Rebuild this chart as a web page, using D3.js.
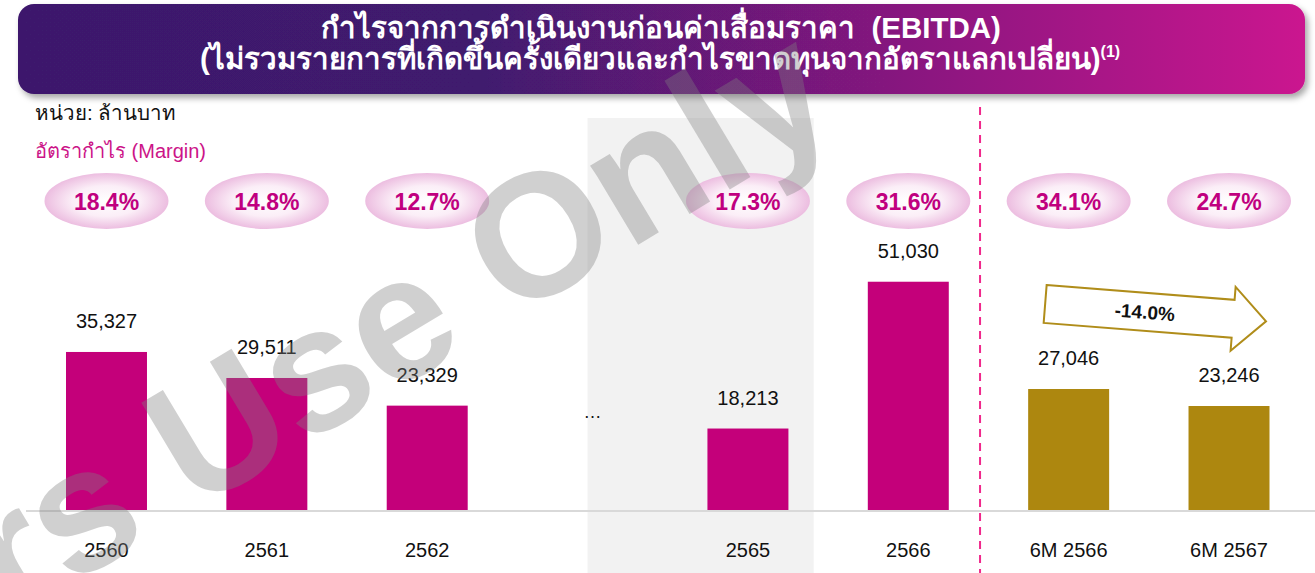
<!DOCTYPE html>
<html>
<head>
<meta charset="utf-8">
<script src="https://cdn.jsdelivr.net/npm/d3@7"></script>
<style>
  html, body { margin: 0; padding: 0; background: #fff; }
  svg { display: block; font-family: "Liberation Sans", Arial, sans-serif; }
</style>
</head>
<body>
<script>
const width = 1315;
const height = 573;

const categories = ["2560", "2561", "2562", "…", "2565", "2566", "6M 2566", "6M 2567"];
const ebitda = [35327, 29511, 23329, null, 18213, 51030, 27046, 23246];
const margins = [18.4, 14.8, 12.7, null, 17.3, 31.6, 34.1, 24.7];
const periods = ["year", "year", "year", null, "year", "year", "half", "half"];
const changeLabel = "-14.0%";

const titleLine1 = "กำไรจากการดำเนินงานก่อนค่าเสื่อมราคา \u00a0(EBITDA)";
const titleLine2 = "(ไม่รวมรายการที่เกิดขึ้นครั้งเดียวและกำไรขาดทุนจากอัตราแลกเปลี่ยน)";
const unitLabel = "หน่วย: ล้านบาท";
const marginLabel = "อัตรากำไร (Margin)";
const watermark = "For Investors Use Only";

const colors = { year: "#c4007a", half: "#ad870f" };

const data = categories.map((c, i) => ({ cat: c, value: ebitda[i], margin: margins[i], period: periods[i] }));

const svg = d3.select("body")
    .append("svg")
    .attr("width", width)
    .attr("height", height);

const defs = svg.append("defs");

const titleGrad = defs.append("linearGradient").attr("id", "titleGrad");
titleGrad.append("stop").attr("offset", "0%").attr("stop-color", "#3d196c");
titleGrad.append("stop").attr("offset", "36%").attr("stop-color", "#401a6e");
titleGrad.append("stop").attr("offset", "100%").attr("stop-color", "#cb188f");

const ellGrad = defs.append("radialGradient").attr("id", "ellGrad");
ellGrad.append("stop").attr("offset", "0%").attr("stop-color", "#ffffff");
ellGrad.append("stop").attr("offset", "55%").attr("stop-color", "#fbeef7");
ellGrad.append("stop").attr("offset", "100%").attr("stop-color", "#ecbde0");

const shadow = defs.append("filter").attr("id", "shadow")
    .attr("x", "-5%").attr("y", "-20%").attr("width", "110%").attr("height", "150%");
shadow.append("feDropShadow")
    .attr("dx", 3).attr("dy", 4).attr("stdDeviation", 3)
    .attr("flood-color", "#000").attr("flood-opacity", 0.35);

// scales
const x = d3.scaleBand()
    .domain(categories)
    .range([66, 1269.5])
    .paddingInner(0.495)
    .paddingOuter(0);

const y = d3.scaleLinear()
    .domain([0, 60000])
    .range([510, 241.6]);

const xc = c => x(c) + x.bandwidth() / 2;

// shaded "gap" region
svg.append("rect")
    .attr("x", xc("…"))
    .attr("y", 118)
    .attr("width", xc("2565") + x.step() * 0.41 - xc("…"))
    .attr("height", height - 118)
    .attr("fill", "#f2f2f2");

// dashed separator
svg.append("line")
    .attr("x1", x("6M 2566") - x.step() * 0.3)
    .attr("x2", x("6M 2566") - x.step() * 0.3)
    .attr("y1", 107)
    .attr("y2", height)
    .attr("stroke", "#f0288c")
    .attr("stroke-width", 2)
    .attr("stroke-dasharray", "8,6");

// baseline
svg.append("line")
    .attr("x1", 26).attr("x2", width)
    .attr("y1", y(0) + 1).attr("y2", y(0) + 1)
    .attr("stroke", "#d9d9d9")
    .attr("stroke-width", 2);

// title box
svg.append("rect")
    .attr("x", 18).attr("y", 4)
    .attr("width", 1287).attr("height", 90)
    .attr("rx", 16)
    .attr("fill", "url(#titleGrad)")
    .attr("filter", "url(#shadow)");

const title = svg.append("g")
    .attr("fill", "#fff")
    .attr("font-weight", "bold")
    .attr("font-size", 29.5)
    .attr("text-anchor", "middle");

title.append("text")
    .attr("x", 661).attr("y", 38)
    .text(titleLine1);

const t2 = title.append("text")
    .attr("x", 660).attr("y", 69);
t2.append("tspan").text(titleLine2);
t2.append("tspan").attr("font-size", 16).attr("dy", -12).text("(1)");

svg.append("text")
    .attr("x", 35).attr("y", 120)
    .attr("font-size", 20.5)
    .attr("fill", "#111")
    .text(unitLabel);

svg.append("text")
    .attr("x", 35).attr("y", 158)
    .attr("font-size", 20)
    .attr("fill", "#cc1488")
    .text(marginLabel);

// margin ellipses
const marg = svg.append("g")
    .selectAll("g")
    .data(data.filter(d => d.margin != null))
    .enter()
    .append("g")
    .attr("transform", d => `translate(${xc(d.cat)},201)`);

marg.append("ellipse")
    .attr("rx", 62).attr("ry", 28)
    .attr("fill", "url(#ellGrad)");

marg.append("text")
    .attr("y", 8.5)
    .attr("text-anchor", "middle")
    .attr("font-size", 23)
    .attr("font-weight", "bold")
    .attr("fill", "#c0007f")
    .text(d => d.margin.toFixed(1) + "%");

// bars
const bars = data.filter(d => d.value != null);

svg.append("g")
    .selectAll("rect")
    .data(bars)
    .enter()
    .append("rect")
    .attr("x", d => x(d.cat))
    .attr("y", d => y(d.value))
    .attr("width", x.bandwidth())
    .attr("height", d => y(0) - y(d.value))
    .attr("fill", d => colors[d.period]);

svg.append("g")
    .selectAll("text")
    .data(bars)
    .enter()
    .append("text")
    .attr("x", d => xc(d.cat))
    .attr("y", d => y(d.value) - 24)
    .attr("text-anchor", "middle")
    .attr("font-size", 20)
    .attr("fill", "#111")
    .text(d => d3.format(",")(d.value));

// ellipsis in the gap slot
svg.append("text")
    .attr("x", xc("…") + 5)
    .attr("y", 418)
    .attr("text-anchor", "middle")
    .attr("font-size", 18)
    .attr("fill", "#111")
    .text("…");

// x axis labels
const xAxis = svg.append("g")
    .attr("transform", `translate(0,${y(0)})`)
    .call(d3.axisBottom(x).tickSize(0).tickPadding(0).tickFormat(c => c === "…" ? "" : c));
xAxis.select(".domain").remove();
xAxis.selectAll("text")
    .attr("dy", null)
    .attr("y", 47)
    .attr("font-size", 20)
    .attr("font-family", "Liberation Sans, Arial, sans-serif")
    .attr("fill", "#111");

// change arrow between the two half-year bars
const ax0 = xc("6M 2566") - 23.5;
const ax1 = xc("6M 2567") + 37;
const angle = 4.5;
const len = (ax1 - ax0) / Math.cos(angle * Math.PI / 180);
const h1 = 19, h2 = 32, hl = 33;
const arrow = svg.append("g")
    .attr("transform", `translate(${ax0},304) rotate(${angle})`);

arrow.append("path")
    .attr("d", d3.line()([
        [0, -h1], [len - hl, -h1], [len - hl, -h2], [len, 0],
        [len - hl, h2], [len - hl, h1], [0, h1]
    ]) + "Z")
    .attr("fill", "#fff")
    .attr("stroke", "#b08d1a")
    .attr("stroke-width", 2);

arrow.append("text")
    .attr("x", 100).attr("y", 7)
    .attr("text-anchor", "middle")
    .attr("font-size", 19)
    .attr("font-weight", "bold")
    .attr("fill", "#111")
    .text(changeLabel);

// watermark on top of everything
svg.append("text")
    .attr("transform", "translate(511,321) rotate(-31)")
    .attr("x", 0).attr("y", 0)
    .attr("font-size", 175)
    .attr("font-weight", "bold")
    .attr("fill", "#7f7f7f")
    .attr("fill-opacity", 0.37)
    .attr("text-anchor", "middle")
    .text(watermark)
    .each(function() {
        // align so the word "Only" starts at the anchor point
        const full = this.getComputedTextLength();
        const tmp = svg.append("text").attr("font-size", 175).attr("font-weight", "bold").text("Only");
        const w = tmp.node().getComputedTextLength();
        tmp.remove();
        d3.select(this).attr("x", w - full / 2);
    });
</script>
</body>
</html>
